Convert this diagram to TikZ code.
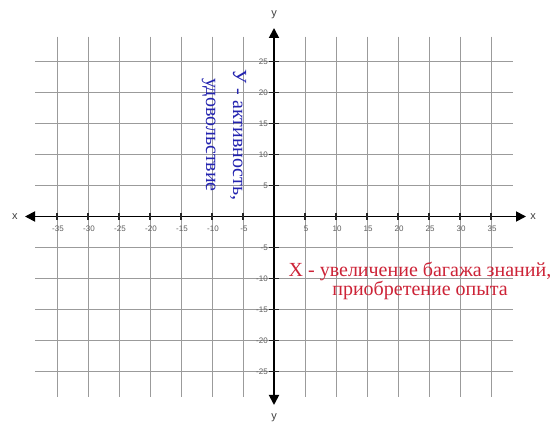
\documentclass[tikz,border=0pt]{standalone}
\usepackage{fontspec}
\setmainfont{Liberation Serif}
\newfontfamily\labelfont{Liberation Sans}
\usetikzlibrary{arrows.meta}
\definecolor{gridgray}{RGB}{155,155,155}
\definecolor{ticklab}{RGB}{95,95,95}
\definecolor{bluetext}{RGB}{35,35,175}
\definecolor{redtext}{RGB}{205,35,55}
\tikzset{
  gridline/.style={draw=gridgray, line width=0.9pt},
  axisline/.style={draw=black, line width=1.8pt, {Triangle[length=10pt,width=10pt]}-{Triangle[length=10pt,width=10pt]}},
  tickmark/.style={draw=black!85, line width=1.2pt},
  ticklabel/.style={font=\labelfont\fontsize{8}{9}\selectfont, text=ticklab, inner sep=0pt},
  axislabel/.style={font=\labelfont\fontsize{11}{12}\selectfont, text=black!75, inner sep=0pt},
  bluenote/.style={font=\fontsize{20}{27}\selectfont, text=bluetext, align=center, inner sep=0pt},
  rednote/.style={font=\fontsize{20}{18.5}\selectfont, text=redtext, align=center, inner sep=0pt}
}
\begin{document}
\begin{tikzpicture}[x=1pt,y=-1pt]
\useasboundingbox (0,0) rectangle (557,427);
\fill[white] (0,0) rectangle (557,427);
% grid
\foreach \i in {-7,...,-1,1,2,...,7} {
  \draw[gridline] ({274+31*\i},36.7) -- ({274+31*\i},396.7);
}
\foreach \j in {-5,...,-1,1,2,...,5} {
  \draw[gridline] (35,{216.5+31*\j}) -- (513,{216.5+31*\j});
}
% axes
\coordinate (xl) at (25,216.5);
\coordinate (xr) at (526,216.5);
\coordinate (yt) at (274,28);
\coordinate (yb) at (274,405);
\draw[axisline] (xl) -- (xr);
\draw[axisline] (yb) -- (yt);
% ticks and labels
\foreach \i in {-7,...,-1,1,2,...,7} {
  \draw[tickmark] ({274+31*\i},213) -- ({274+31*\i},220);
  \pgfmathtruncatemacro{\v}{5*\i}
  \node[ticklabel] (tx\i) at ({274+31*\i+1},228.5) {\v};
}
\foreach \j in {-5,...,-1,1,2,...,5} {
  \draw[tickmark] (269,{216.5-31*\j}) -- (279,{216.5-31*\j});
  \pgfmathtruncatemacro{\v}{5*\j}
  \node[ticklabel, anchor=east] (ty\j) at (268,{216.5-31*\j}) {\v};
}
\node[axislabel] (xlab1) at (15,217) {x};
\node[axislabel] (xlab2) at (533,217) {x};
\node[axislabel] (ylab1) at (274,15) {y};
\node[axislabel] (ylab2) at (274,418) {y};
% notes
\node[bluenote, rotate=-90] (ynote) at (224,135) {У - активность,\\удовольствие};
\node[rednote] (xnote) at (420,281) {X - увеличение багажа знаний,\\приобретение опыта};
\end{tikzpicture}
\end{document}
